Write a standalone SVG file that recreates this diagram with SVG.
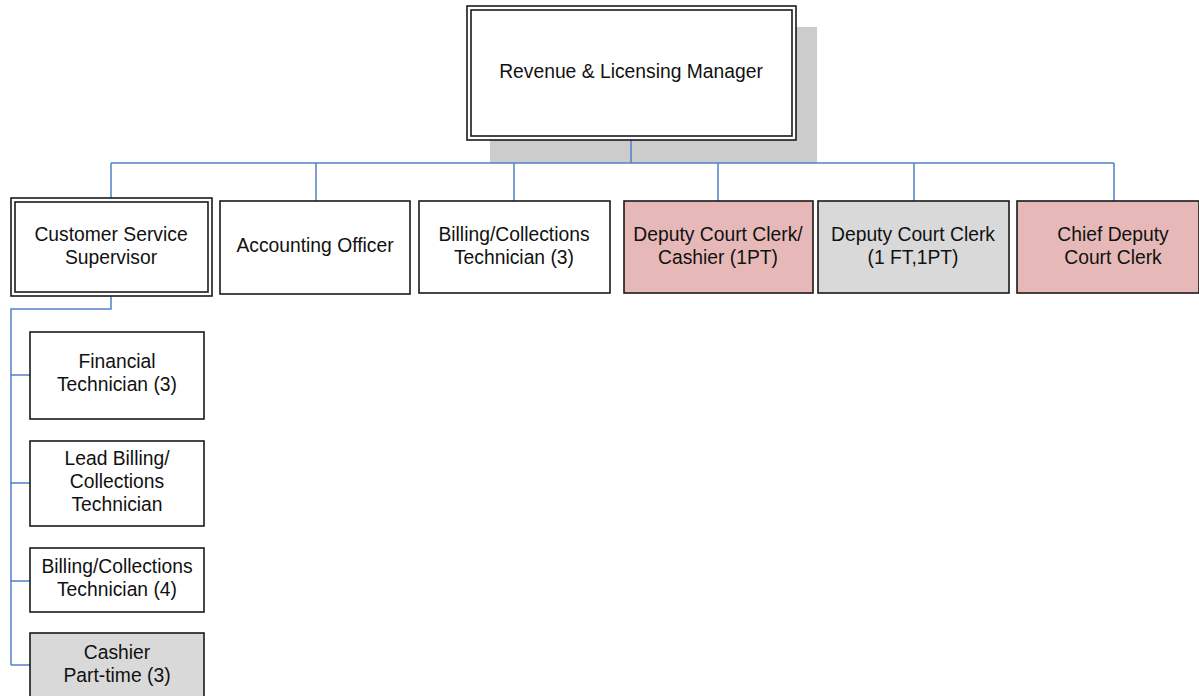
<svg xmlns="http://www.w3.org/2000/svg" width="1199" height="696" viewBox="0 0 1199 696">
  <style>
    .box { fill: #ffffff; stroke: #1a1a1a; stroke-width: 1.6; }
    .pink { fill: #e6b9b8; }
    .grey { fill: #d9d9d9; }
    .inner { fill: none; stroke: #1a1a1a; stroke-width: 1.6; }
    .lbl { font-family: "Liberation Sans", Arial, sans-serif; font-size: 19.3px; fill: #111111; text-anchor: middle; }
    .conn { fill: none; stroke: #4f81c7; stroke-width: 1.5; }
  </style>
  <rect width="1199" height="696" fill="#ffffff"/>

  <!-- shadow behind the manager box -->
  <rect x="490" y="27" width="327" height="136" fill="#cccccc"/>

  <g id="connectors">
    <path class="conn" d="M631,140 V163 M111,163 H1114 M111,163 V198 M316,163 V201 M514,163 V201 M718,163 V201 M914,163 V201 M1114,163 V201"/>
    <path class="conn" d="M111,296 V309 H11 V665 M11,375 H30 M11,483 H30 M11,581 H30 M11,665 H30"/>
  </g>

  <g id="manager">
    <rect class="box" x="467" y="6" width="329" height="134"/>
    <rect class="inner" x="471" y="10" width="321" height="126"/>
    <text class="lbl" x="631" y="78">Revenue &amp; Licensing Manager</text>
  </g>

  <g id="supervisor">
    <rect class="box" x="11" y="198" width="201" height="98"/>
    <rect class="inner" x="15" y="202" width="193" height="90"/>
    <text class="lbl" x="111" y="241">Customer Service</text>
    <text class="lbl" x="111" y="264">Supervisor</text>
  </g>

  <g id="accounting">
    <rect class="box" x="220" y="201" width="190" height="93"/>
    <text class="lbl" x="315" y="252">Accounting Officer</text>
  </g>

  <g id="billing3">
    <rect class="box" x="419" y="201" width="191" height="92"/>
    <text class="lbl" x="514" y="241">Billing/Collections</text>
    <text class="lbl" x="514" y="264">Technician (3)</text>
  </g>

  <g id="deputy-cashier">
    <rect class="box pink" x="624" y="201" width="189" height="92"/>
    <text class="lbl" x="718" y="241">Deputy Court Clerk/</text>
    <text class="lbl" x="718" y="264">Cashier (1PT)</text>
  </g>

  <g id="deputy-clerk">
    <rect class="box grey" x="818" y="201" width="191" height="92"/>
    <text class="lbl" x="913" y="241">Deputy Court Clerk</text>
    <text class="lbl" x="913" y="264">(1 FT,1PT)</text>
  </g>

  <g id="chief-deputy">
    <rect class="box pink" x="1017" y="201" width="182" height="92"/>
    <text class="lbl" x="1113" y="241">Chief Deputy</text>
    <text class="lbl" x="1113" y="264">Court Clerk</text>
  </g>

  <g id="financial">
    <rect class="box" x="30" y="332" width="174" height="87"/>
    <text class="lbl" x="117" y="368">Financial</text>
    <text class="lbl" x="117" y="391">Technician (3)</text>
  </g>

  <g id="lead-billing">
    <rect class="box" x="30" y="441" width="174" height="85"/>
    <text class="lbl" x="117" y="465">Lead Billing/</text>
    <text class="lbl" x="117" y="488">Collections</text>
    <text class="lbl" x="117" y="511">Technician</text>
  </g>

  <g id="billing4">
    <rect class="box" x="30" y="548" width="174" height="64"/>
    <text class="lbl" x="117" y="573">Billing/Collections</text>
    <text class="lbl" x="117" y="596">Technician (4)</text>
  </g>

  <g id="cashier">
    <rect class="box grey" x="30" y="633" width="174" height="70"/>
    <text class="lbl" x="117" y="659">Cashier</text>
    <text class="lbl" x="117" y="682">Part-time (3)</text>
  </g>
</svg>
